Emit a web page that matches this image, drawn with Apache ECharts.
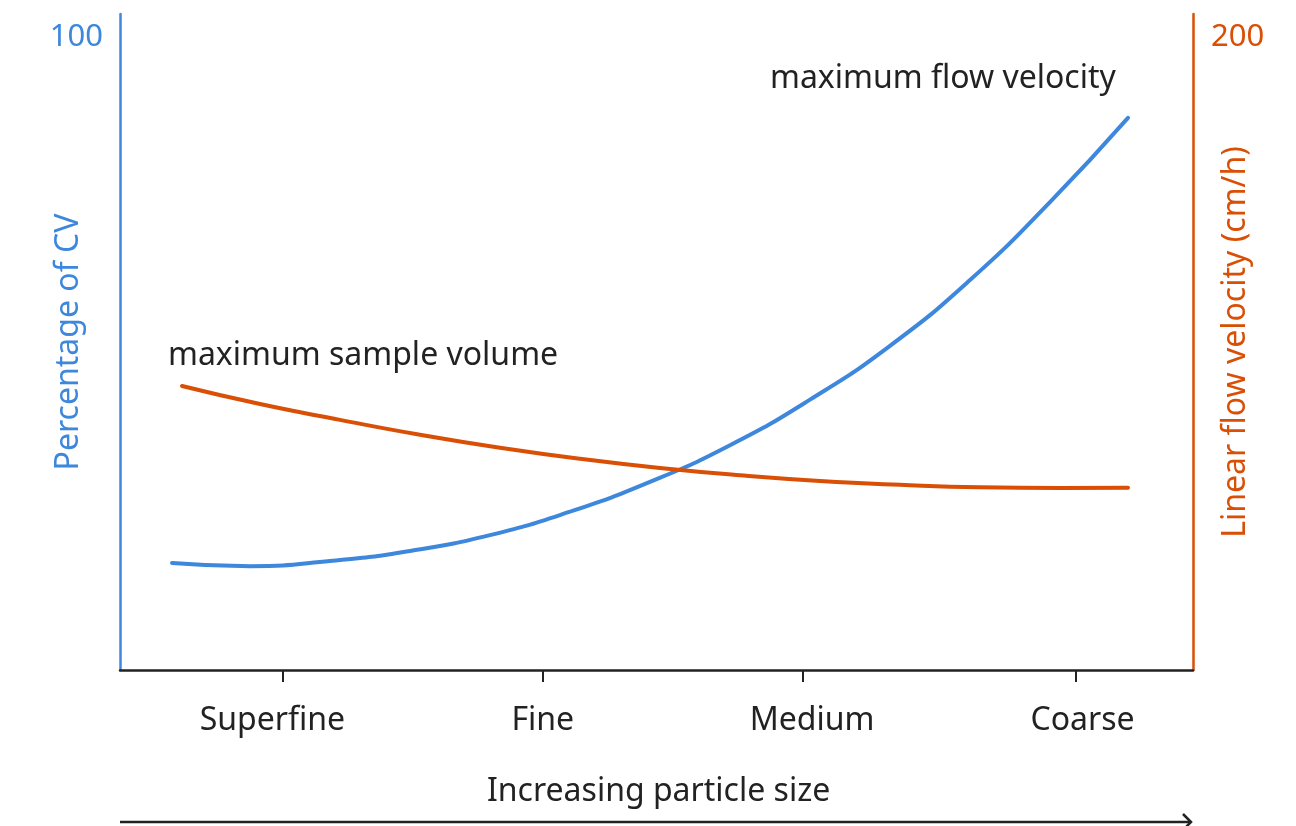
<!DOCTYPE html>
<html>
<head>
<meta charset="utf-8">
<script src="https://cdn.jsdelivr.net/npm/echarts@6/dist/echarts.min.js"></script>
<style>
html,body{margin:0;padding:0;background:#fff;}
#chart{width:1296px;height:826px;}
</style>
</head>
<body>
<div id="chart"></div>
<script>
// Categories along the particle-size axis and their positions on a 0-100 scale
var categories = ['Superfine', 'Fine', 'Medium', 'Coarse'];
var categoryTickPos = [15.2, 39.4, 63.6, 89.1];
var categoryLabelPos = [14.2, 39.4, 64.5, 89.7];

// Blue curve (left axis, Percentage of CV)
var cvX = [4.85, 12.12, 19.57, 27.03, 34.48, 41.94, 49.39, 56.85, 64.31, 71.76, 79.22, 86.67, 93.94];
var cvY = [16.9, 16.4, 17.2, 18.8, 21.3, 25.0, 29.7, 35.5, 42.7, 51.2, 61.6, 73.9, 87.2];

// Orange curve (right axis, Linear flow velocity cm/h)
var velX = [5.78, 13.05, 20.5, 27.96, 35.41, 42.87, 50.33, 57.78, 65.24, 72.69, 80.15, 87.6, 93.94];
var velY = [89.7, 84.0, 79.0, 74.3, 70.2, 66.7, 63.8, 61.5, 59.7, 58.5, 57.7, 57.5, 57.6];

var leftTickLabels = [100];
var rightTickLabels = [200];

var BLUE = '#3d87dd';
var ORANGE = '#d94f05';
var TEXT = '#222222';
var FONT = 'Noto Sans';
var FS = 32;

function pairs(xs, ys) { return xs.map(function (x, i) { return [x, ys[i]]; }); }

var chart = echarts.init(document.getElementById('chart'), null, {renderer: 'canvas'});
var option = {
  animation: false,
  backgroundColor: '#ffffff',
  textStyle: {fontFamily: FONT},
  grid: {left: 120, right: 103, top: 14, bottom: 156, containLabel: false, outerBoundsMode: 'none'},
  xAxis: {
    type: 'value', min: 0, max: 100,
    axisLine: {show: true, lineStyle: {color: TEXT, width: 2.5}},
    axisTick: {show: true, length: 12, customValues: categoryTickPos, lineStyle: {color: TEXT, width: 2}},
    axisLabel: {
      show: true, customValues: categoryLabelPos, margin: 35,
      color: TEXT, fontSize: FS, fontFamily: FONT,
      formatter: function (v) {
        for (var i = 0; i < categoryLabelPos.length; i++) {
          if (Math.abs(categoryLabelPos[i] - v) < 0.01) return categories[i];
        }
        return '';
      }
    },
    splitLine: {show: false}
  },
  yAxis: [
    {
      type: 'value', min: 0, max: 103.6, position: 'left',
      name: 'Percentage of CV', nameLocation: 'middle', nameGap: 35, nameMoveOverlap: false,
      nameTextStyle: {color: BLUE, fontSize: FS, fontFamily: FONT},
      axisLine: {show: true, lineStyle: {color: BLUE, width: 2.5}},
      axisTick: {show: false},
      axisLabel: {show: true, customValues: leftTickLabels, color: BLUE, fontSize: 31, fontFamily: FONT, margin: 17},
      splitLine: {show: false}
    },
    {
      type: 'value', min: 0, max: 207.2, position: 'right',
      name: 'Linear flow velocity (cm/h)', nameLocation: 'middle', nameGap: 27, nameMoveOverlap: false,
      nameTextStyle: {color: ORANGE, fontSize: FS, fontFamily: FONT},
      axisLine: {show: true, lineStyle: {color: ORANGE, width: 2.5}},
      axisTick: {show: false},
      axisLabel: {show: true, customValues: rightTickLabels, color: ORANGE, fontSize: 31, fontFamily: FONT, margin: 18},
      splitLine: {show: false}
    }
  ],
  series: [
    {
      name: 'maximum flow velocity', type: 'line', yAxisIndex: 0,
      data: pairs(cvX, cvY), smooth: 0.5, showSymbol: false,
      lineStyle: {color: BLUE, width: 4, cap: 'round'}
    },
    {
      name: 'maximum sample volume', type: 'line', yAxisIndex: 1,
      data: pairs(velX, velY), smooth: 0.5, showSymbol: false,
      lineStyle: {color: ORANGE, width: 4, cap: 'round'}
    }
  ],
  graphic: [
    {type: 'text', left: 770, top: 63, style: {text: 'maximum flow velocity', fill: TEXT, font: FS + 'px "Noto Sans"'}},
    {type: 'text', left: 168, top: 340, style: {text: 'maximum sample volume', fill: TEXT, font: FS + 'px "Noto Sans"'}},
    {type: 'text', left: 487, top: 776, style: {text: 'Increasing particle size', fill: TEXT, font: FS + 'px "Noto Sans"'}},
    {type: 'line', shape: {x1: 120, y1: 822, x2: 1191, y2: 822}, style: {stroke: TEXT, lineWidth: 2.5}},
    {type: 'polyline', shape: {points: [[1183, 814], [1191, 822], [1183, 830]]}, style: {stroke: TEXT, lineWidth: 2.5, fill: null}}
  ]
};
chart.setOption(option);
</script>
</body>
</html>
